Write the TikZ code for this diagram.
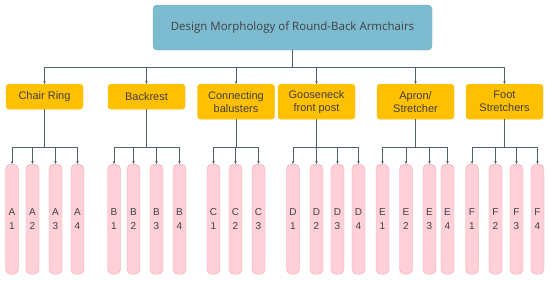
\documentclass[tikz,border=0pt]{standalone}
\usepackage{fontspec}
\setmainfont{Liberation Sans}
\newfontfamily\titlefont{Open Sans}
\usetikzlibrary{arrows.meta, positioning}

\definecolor{titlefill}{RGB}{125,187,208}
\definecolor{titleline}{RGB}{110,170,192}
\definecolor{catfill}{RGB}{255,192,0}
\definecolor{pillfill}{RGB}{255,208,216}
\definecolor{pillline}{RGB}{242,160,176}
\definecolor{wire}{RGB}{78,98,104}
\definecolor{inkgray}{RGB}{64,64,64}

\begin{document}
\begin{tikzpicture}[
  x=1pt, y=-1pt,
  title box/.style = {
    draw=titleline, fill=titlefill, rounded corners=4pt, inner sep=0pt,
    minimum width=279pt, minimum height=45pt, text=inkgray,
    font=\titlefont\fontsize{11.5}{14}\selectfont
  },
  cat box/.style = {
    draw=catfill, fill=catfill, rounded corners=3pt, inner sep=0pt,
    minimum width=77pt, align=center, anchor=north, text=inkgray,
    font=\fontsize{11}{13}\selectfont
  },
  one line/.style = {cat box, minimum height=25pt},
  two line/.style = {cat box, minimum height=35pt},
  pill/.style = {
    draw=pillline, fill=pillfill, rounded corners=5pt, inner sep=0pt,
    minimum width=13pt, minimum height=110pt, align=center, anchor=north,
    text=inkgray, font=\fontsize{10}{14}\selectfont
  },
  arr/.style = {-{Stealth[length=3pt,width=2.6pt]}, draw=wire, line width=0.7pt},
]
\useasboundingbox (0,0) rectangle (550,281);

\node[title box] (title) at (292.5,27.5) {Design Morphology of Round-Back Armchairs};

% second level
\node[one line] (ring)   at (44.5,84)  {Chair Ring};
\node[one line] (back)   at (146.5,84) {Backrest};
\node[two line] (balus)  at (236,84)   {Connecting\\balusters};
\node[two line] (goose)  at (316.5,84) {Gooseneck\\front post};
\node[two line] (apron)  at (415.5,84) {Apron/\\Stretcher};
\node[two line] (foot)   at (504.5,84) {Foot\\Stretchers};

\coordinate (bus) at (0,67);
\coordinate (sub) at (0,147);

\draw[arr] (title.south) -- (title.south |- bus) -| (ring.north);
\draw[arr] (title.south) -- (title.south |- bus) -| (back.north);
\draw[arr] (title.south) -- (title.south |- bus) -| (balus.north);
\draw[arr] (title.south) -- (title.south |- bus) -| (goose.north);
\draw[arr] (title.south) -- (title.south |- bus) -| (apron.north);
\draw[arr] (title.south) -- (title.south |- bus) -| (foot.north);

% third level
\node[pill] (a1) at (12,164)   {A\\1};
\node[pill] (a2) at (32.5,164) {A\\2};
\node[pill] (a3) at (55.5,164) {A\\3};
\node[pill] (a4) at (77.5,164) {A\\4};

\node[pill] (b1) at (114,164)   {B\\1};
\node[pill] (b2) at (133.5,164) {B\\2};
\node[pill] (b3) at (156.5,164) {B\\3};
\node[pill] (b4) at (179.5,164) {B\\4};

\node[pill] (c1) at (213.5,164) {C\\1};
\node[pill] (c2) at (235.5,164) {C\\2};
\node[pill] (c3) at (258.5,164) {C\\3};

\node[pill] (d1) at (293,164)   {D\\1};
\node[pill] (d2) at (316.5,164) {D\\2};
\node[pill] (d3) at (337.5,164) {D\\3};
\node[pill] (d4) at (358.5,164) {D\\4};

\node[pill] (e1) at (382.5,164) {E\\1};
\node[pill] (e2) at (406,164)   {E\\2};
\node[pill] (e3) at (429.5,164) {E\\3};
\node[pill] (e4) at (447.5,164) {E\\4};

\node[pill] (f1) at (472,164)   {F\\1};
\node[pill] (f2) at (495.5,164) {F\\2};
\node[pill] (f3) at (516.5,164) {F\\3};
\node[pill] (f4) at (537.5,164) {F\\4};

\draw[arr] (ring.south) -- (ring.south |- sub) -| (a1.north);
\draw[arr] (ring.south) -- (ring.south |- sub) -| (a2.north);
\draw[arr] (ring.south) -- (ring.south |- sub) -| (a3.north);
\draw[arr] (ring.south) -- (ring.south |- sub) -| (a4.north);

\draw[arr] (back.south) -- (back.south |- sub) -| (b1.north);
\draw[arr] (back.south) -- (back.south |- sub) -| (b2.north);
\draw[arr] (back.south) -- (back.south |- sub) -| (b3.north);
\draw[arr] (back.south) -- (back.south |- sub) -| (b4.north);

\draw[arr] (balus.south) -- (balus.south |- sub) -| (c1.north);
\draw[arr] (balus.south) -- (balus.south |- sub) -| (c2.north);
\draw[arr] (balus.south) -- (balus.south |- sub) -| (c3.north);

\draw[arr] (goose.south) -- (goose.south |- sub) -| (d1.north);
\draw[arr] (goose.south) -- (goose.south |- sub) -| (d2.north);
\draw[arr] (goose.south) -- (goose.south |- sub) -| (d3.north);
\draw[arr] (goose.south) -- (goose.south |- sub) -| (d4.north);

\draw[arr] (apron.south) -- (apron.south |- sub) -| (e1.north);
\draw[arr] (apron.south) -- (apron.south |- sub) -| (e2.north);
\draw[arr] (apron.south) -- (apron.south |- sub) -| (e3.north);
\draw[arr] (apron.south) -- (apron.south |- sub) -| (e4.north);

\draw[arr] (foot.south) -- (foot.south |- sub) -| (f1.north);
\draw[arr] (foot.south) -- (foot.south |- sub) -| (f2.north);
\draw[arr] (foot.south) -- (foot.south |- sub) -| (f3.north);
\draw[arr] (foot.south) -- (foot.south |- sub) -| (f4.north);

\end{tikzpicture}
\end{document}
